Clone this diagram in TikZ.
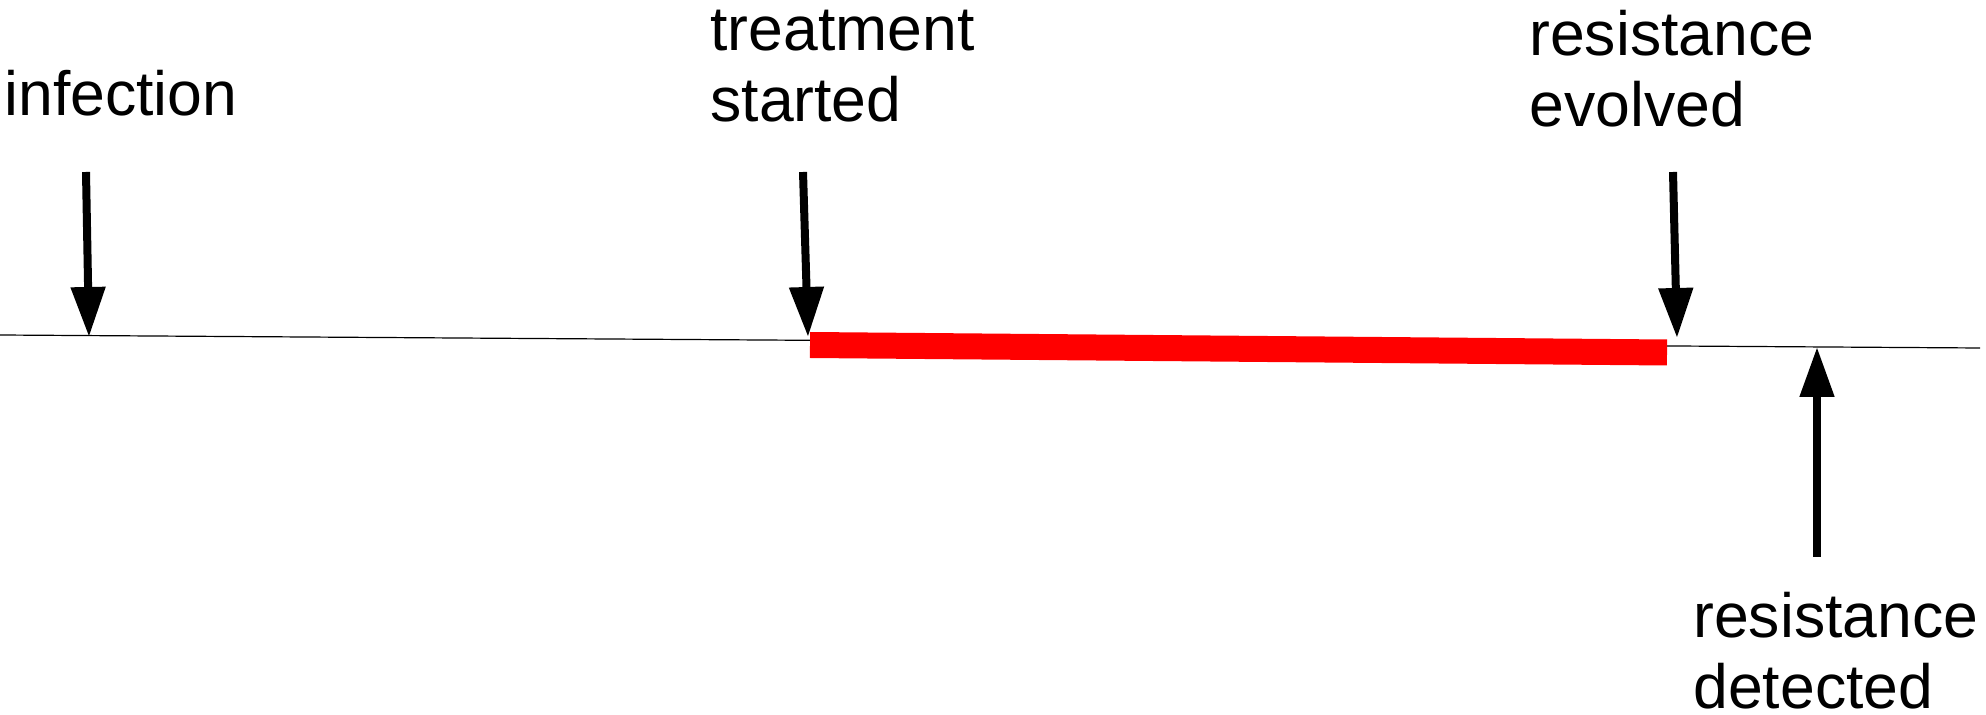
\documentclass[tikz,border=0pt]{standalone}
\usepackage{fontspec}
\setmainfont{Liberation Sans}
\usetikzlibrary{arrows.meta}
\tikzset{
    marker/.style={line width=4pt, -{Triangle[width=16.5pt, length=25pt]}},
    lbl/.style={anchor=base west, inner sep=0pt, align=left,
        font=\fontsize{31.25}{35.5}\selectfont}
}
\begin{document}
\begin{tikzpicture}[x=0.5pt, y=-0.5pt]
    \useasboundingbox (0,0) rectangle (1986,715);
    % time line
    \coordinate (t0) at (0,335);
    \coordinate (t1) at (1980,348);
    \draw[line width=0.6pt] (t0) -- (t1);
    % treatment period
    \coordinate (r0) at (810,345);
    \coordinate (r1) at (1667,352.5);
    \draw[red, line width=13pt] (r0) -- (r1);
    % infection
    \node[lbl] (infection) at (4,116) {infection};
    \coordinate (a0) at (86,172);
    \coordinate (a1) at (89,337);
    \draw[marker] (a0) -- (a1);
    % treatment started (base = last line)
    \node[lbl] (treatment) at (710,122) {treatment\\started};
    \coordinate (b0) at (803,172);
    \coordinate (b1) at (808,337);
    \draw[marker] (b0) -- (b1);
    % resistance evolved
    \node[lbl] (evolved) at (1529,127) {resistance\\evolved};
    \coordinate (c0) at (1673,172);
    \coordinate (c1) at (1677,338);
    \draw[marker] (c0) -- (c1);
    % resistance detected
    \node[lbl] (detected) at (1693,708) {resistance\\detected};
    \coordinate (d0) at (1817,557);
    \coordinate (d1) at (1817,347);
    \draw[marker] (d0) -- (d1);
\end{tikzpicture}
\end{document}
